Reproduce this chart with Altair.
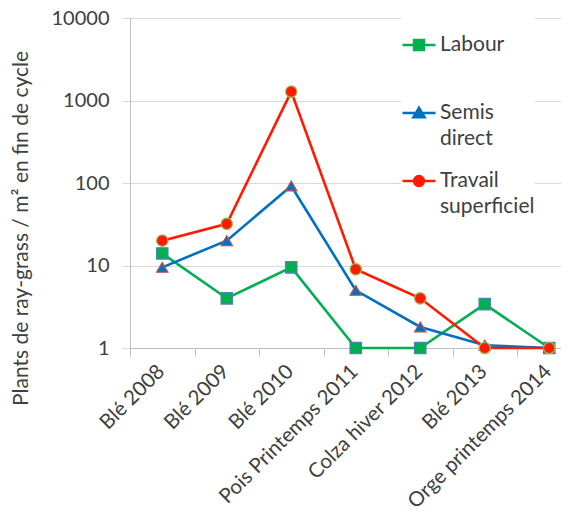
import altair as alt
import pandas as pd

categories = ["Blé 2008", "Blé 2009", "Blé 2010", "Pois Printemps 2011",
              "Colza hiver 2012", "Blé 2013", "Orge printemps 2014"]
series_names = ["Labour", "Semis direct", "Travail superficiel"]
labour = [14, 4, 9.5, 1, 1, 3.4, 1]
semis_direct = [9.5, 20, 92, 5, 1.8, 1.08, 1]
travail_superficiel = [20, 32, 1280, 9, 4, 1, 1]
y_ticks = [1, 10, 100, 1000, 10000]

line_colors = ["#00b050", "#0070c0", "#ff1a00"]
marker_borders = ["#4f81bd", "#c0504d", "#9bbb59"]
marker_shapes = ["square", "triangle-up", "circle"]
legend_paths = [
    "M-1,0.67H1M-0.3,0.37H0.3V0.97H-0.3Z",
    "M-1,0.67H1M0,0.35L0.34,0.93H-0.34Z",
    "M-1,0.67H1M0.3,0.67A0.3,0.3,0,1,1,-0.3,0.67A0.3,0.3,0,1,1,0.3,0.67Z",
]

rows = []
for s, vals in zip(series_names, [labour, semis_direct, travail_superficiel]):
    for i, (c, v) in enumerate(zip(categories, vals)):
        rows.append({"serie": s, "culture": c, "pos": i + 0.5, "plants": v})
df = pd.DataFrame(rows)

FONT = "Lato"
TXT = "#404040"
plot_w = 431
step_px = 64.5
x_max = plot_w / step_px

cat_js = "[" + ",".join("'" + c + "'" for c in categories) + "]"

x = alt.X(
    "pos:Q",
    scale=alt.Scale(domain=[0, x_max], nice=False, zero=False),
    axis=alt.Axis(
        values=list(range(len(categories))),
        labelExpr=cat_js + "[datum.value]",
        labelOffset=31, labelAngle=-45, labelAlign="right", labelBaseline="middle",
        labelFlush=False, labelOverlap=False, labelBound=False, labelLimit=400,
        labelPadding=12, labelFont=FONT, labelFontSize=20.5, labelColor=TXT,
        grid=False, tickSize=8, tickColor="#bfbfbf", domainColor="#bfbfbf",
        title=None,
    ),
)
y = alt.Y(
    "plants:Q",
    scale=alt.Scale(type="log", domain=[1, 10000], nice=False),
    axis=alt.Axis(
        values=y_ticks, format="d",
        labelFont=FONT, labelFontSize=20, labelColor=TXT, labelPadding=13,
        tickSize=8, tickColor="#d9d9d9", gridColor="#d9d9d9", domainColor="#bfbfbf",
        title="Plants de ray-grass / m² en fin de cycle",
        titleFont=FONT, titleFontSize=21, titleFontWeight="normal", titleColor=TXT,
        titleX=-120, titleY=210, titleAngle=-90, titleAlign="center", titleBaseline="top",
    ),
)

base = alt.Chart(df)

lines = base.mark_line(strokeWidth=2.6).encode(
    x=x, y=y,
    color=alt.Color("serie:N", scale=alt.Scale(domain=series_names, range=line_colors), legend=None),
    detail="serie:N",
)

points = base.mark_point(filled=True, size=130, strokeWidth=1.2, opacity=1).encode(
    x=x, y=y,
    fill=alt.Fill("serie:N", scale=alt.Scale(domain=series_names, range=line_colors), legend=None),
    stroke=alt.Stroke("serie:N", scale=alt.Scale(domain=series_names, range=marker_borders), legend=None),
    shape=alt.Shape("serie:N", scale=alt.Scale(domain=series_names, range=marker_shapes), legend=None),
)

leg_label = ("datum.label == 'Semis direct' ? ['Semis', 'direct'] : "
             "datum.label == 'Travail superficiel' ? ['Travail', 'superficiel'] : [datum.label, ' ']")


def make_legend():
    return alt.Legend(
        title=None, orient="none", legendX=271, legendY=-2, padding=0,
        fillColor="white", symbolSize=1089, symbolStrokeWidth=2.5, symbolOpacity=1,
        labelFont=FONT, labelFontSize=21, labelColor=TXT, labelExpr=leg_label,
        labelBaseline="top", labelOffset=3, labelLimit=300, rowPadding=3,
    )


legend_layer = base.transform_filter("false").mark_point(filled=True, size=1089, strokeWidth=2.5).encode(
    fill=alt.Fill("serie:N", scale=alt.Scale(domain=series_names, range=line_colors), legend=make_legend()),
    stroke=alt.Stroke("serie:N", scale=alt.Scale(domain=series_names, range=line_colors), legend=make_legend()),
    shape=alt.Shape("serie:N", scale=alt.Scale(domain=series_names, range=legend_paths), legend=make_legend()),
)

chart = alt.layer(lines, points, legend_layer).resolve_scale(
    fill="independent", stroke="independent", shape="independent"
).properties(
    width=plot_w, height=330,
    padding={"left": 1, "top": 0, "right": 0, "bottom": 0},
).configure_view(stroke=None).configure(
    background="white", style={"guide-label": {"lineHeight": 26}}
)

chart.save("out.html", embed_options={"renderer": "svg", "actions": False})
